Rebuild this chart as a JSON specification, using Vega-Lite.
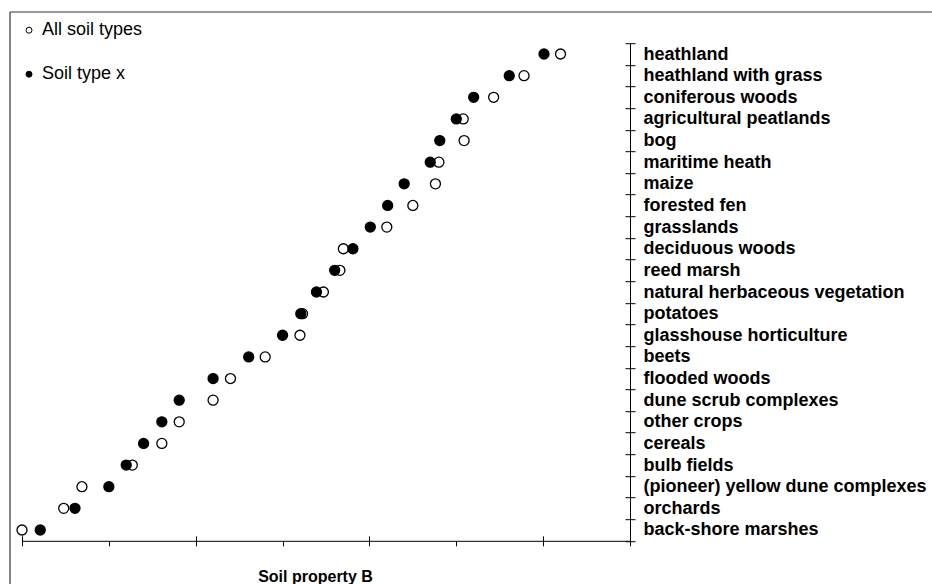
{
  "$schema": "https://vega.github.io/schema/vega-lite/v6.json",
  "width": 608,
  "height": 497.6,
  "autosize": {"type": "none"},
  "padding": {"left": 22, "top": 43.2, "right": 302, "bottom": 43.2},
  "background": "white",
  "config": {
    "view": {"stroke": null},
    "font": "Liberation Sans",
    "axis": {"domainColor": "black", "tickColor": "black", "domainWidth": 1, "tickWidth": 1, "grid": false}
  },
  "datasets": {
    "points": [
      {"land_use": "heathland", "series": "All soil types", "value": 6.2},
      {"land_use": "heathland with grass", "series": "All soil types", "value": 5.78},
      {"land_use": "coniferous woods", "series": "All soil types", "value": 5.43},
      {"land_use": "agricultural peatlands", "series": "All soil types", "value": 5.08},
      {"land_use": "bog", "series": "All soil types", "value": 5.09},
      {"land_use": "maritime heath", "series": "All soil types", "value": 4.8},
      {"land_use": "maize", "series": "All soil types", "value": 4.76},
      {"land_use": "forested fen", "series": "All soil types", "value": 4.5},
      {"land_use": "grasslands", "series": "All soil types", "value": 4.2},
      {"land_use": "deciduous woods", "series": "All soil types", "value": 3.7},
      {"land_use": "reed marsh", "series": "All soil types", "value": 3.66},
      {"land_use": "natural herbaceous vegetation", "series": "All soil types", "value": 3.47},
      {"land_use": "potatoes", "series": "All soil types", "value": 3.23},
      {"land_use": "glasshouse horticulture", "series": "All soil types", "value": 3.2},
      {"land_use": "beets", "series": "All soil types", "value": 2.8},
      {"land_use": "flooded woods", "series": "All soil types", "value": 2.4},
      {"land_use": "dune scrub complexes", "series": "All soil types", "value": 2.2},
      {"land_use": "other crops", "series": "All soil types", "value": 1.81},
      {"land_use": "cereals", "series": "All soil types", "value": 1.61},
      {"land_use": "bulb fields", "series": "All soil types", "value": 1.27},
      {"land_use": "(pioneer) yellow dune complexes", "series": "All soil types", "value": 0.69},
      {"land_use": "orchards", "series": "All soil types", "value": 0.48},
      {"land_use": "back-shore marshes", "series": "All soil types", "value": 0.0},
      {"land_use": "heathland", "series": "Soil type x", "value": 6.01},
      {"land_use": "heathland with grass", "series": "Soil type x", "value": 5.61},
      {"land_use": "coniferous woods", "series": "Soil type x", "value": 5.2},
      {"land_use": "agricultural peatlands", "series": "Soil type x", "value": 5.0},
      {"land_use": "bog", "series": "Soil type x", "value": 4.81},
      {"land_use": "maritime heath", "series": "Soil type x", "value": 4.7},
      {"land_use": "maize", "series": "Soil type x", "value": 4.4},
      {"land_use": "forested fen", "series": "Soil type x", "value": 4.21},
      {"land_use": "grasslands", "series": "Soil type x", "value": 4.01},
      {"land_use": "deciduous woods", "series": "Soil type x", "value": 3.81},
      {"land_use": "reed marsh", "series": "Soil type x", "value": 3.6},
      {"land_use": "natural herbaceous vegetation", "series": "Soil type x", "value": 3.39},
      {"land_use": "potatoes", "series": "Soil type x", "value": 3.21},
      {"land_use": "glasshouse horticulture", "series": "Soil type x", "value": 3.0},
      {"land_use": "beets", "series": "Soil type x", "value": 2.61},
      {"land_use": "flooded woods", "series": "Soil type x", "value": 2.2},
      {"land_use": "dune scrub complexes", "series": "Soil type x", "value": 1.81},
      {"land_use": "other crops", "series": "Soil type x", "value": 1.61},
      {"land_use": "cereals", "series": "Soil type x", "value": 1.4},
      {"land_use": "bulb fields", "series": "Soil type x", "value": 1.2},
      {"land_use": "(pioneer) yellow dune complexes", "series": "Soil type x", "value": 1.0},
      {"land_use": "orchards", "series": "Soil type x", "value": 0.61},
      {"land_use": "back-shore marshes", "series": "Soil type x", "value": 0.21}
    ]
  },
  "resolve": {"axis": {"x": "independent", "y": "independent"}},
  "layer": [
    {
      "data": {"name": "points"},
      "mark": {"type": "point", "shape": "circle", "filled": true, "stroke": "black", "strokeWidth": 1.3, "size": 100, "opacity": 1},
      "encoding": {
        "x": {
          "field": "value", "type": "quantitative",
          "scale": {"domain": [0, 7], "nice": false, "zero": false},
          "axis": {"orient": "bottom", "values": [0, 1, 2, 3, 4, 5, 6, 7], "labels": false, "tickSize": 5,
                   "title": "Soil property B", "titleFontSize": 16, "titleFontWeight": "bold", "titleColor": "black",
                   "titleX": 293, "titleY": 36, "titleBaseline": "middle", "titleAlign": "center"}
        },
        "y": {
          "field": "land_use", "type": "nominal",
          "scale": {"type": "band", "paddingInner": 0, "paddingOuter": 0,
                    "domain": ["heathland", "heathland with grass", "coniferous woods", "agricultural peatlands", "bog", "maritime heath", "maize", "forested fen", "grasslands", "deciduous woods", "reed marsh", "natural herbaceous vegetation", "potatoes", "glasshouse horticulture", "beets", "flooded woods", "dune scrub complexes", "other crops", "cereals", "bulb fields", "(pioneer) yellow dune complexes", "orchards", "back-shore marshes"]},
          "axis": {"orient": "right", "tickBand": "extent", "tickSize": 5, "labelFontSize": 18, "labelFontWeight": "bold",
                   "labelPadding": 8, "labelLimit": 400, "labelColor": "black", "title": null}
        },
        "fill": {
          "field": "series", "type": "nominal",
          "scale": {"domain": ["All soil types", "Soil type x"], "range": ["white", "black"]},
          "legend": {"orient": "none", "legendX": -2, "legendY": -22, "title": null, "symbolType": "circle", "symbolSize": 36,
                     "symbolStrokeColor": "black", "symbolStrokeWidth": 1, "labelFontSize": 18, "labelColor": "black",
                     "rowPadding": 26, "labelOffset": 4, "padding": 0}
        }
      }
    },
    {
      "data": {"values": [{}]},
      "mark": {"type": "rule", "color": "#333333", "strokeWidth": 1.2, "yOffset": -42},
      "encoding": {
        "x": {"datum": -0.138, "type": "quantitative",
              "axis": {"orient": "bottom", "values": [0, 2, 4, 6], "tickSize": -5, "domain": false, "labels": false, "title": null}},
        "x2": {"datum": 11},
        "y": {"datum": "heathland", "type": "nominal",
              "axis": {"orient": "right", "tickBand": "extent", "tickSize": -5, "domain": false, "labels": false, "title": null}}
      }
    },
    {
      "data": {"values": [{}]},
      "mark": {"type": "rule", "color": "#333333", "strokeWidth": 1.2, "yOffset": -42, "y2Offset": 60},
      "encoding": {
        "x": {"datum": -0.138, "type": "quantitative", "axis": null},
        "y": {"datum": "heathland", "type": "nominal", "axis": null},
        "y2": {"datum": "back-shore marshes"}
      }
    }
  ]
}
